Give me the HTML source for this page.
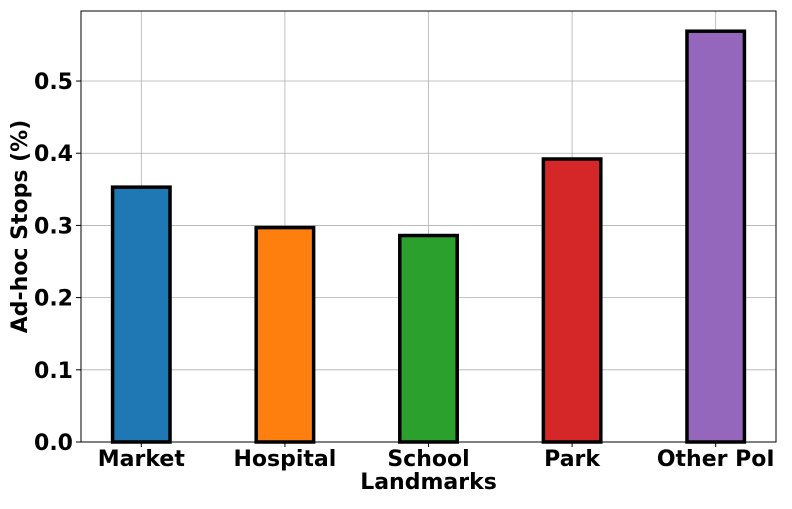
<!DOCTYPE html>
<html><head><meta charset="utf-8"><style>
body{margin:0;background:#fff;width:792px;height:504px;overflow:hidden}
svg text{font-family:"DejaVu Sans",sans-serif;font-weight:bold;fill:#000}
</style></head><body>
<svg id="chart" width="792" height="504"></svg>
<script>
const categories=["Market","Hospital","School","Park","Other PoI"];
const values=[0.353,0.297,0.286,0.392,0.569];
const colors=["#1f77b4","#ff7f0e","#2ca02c","#d62728","#9467bd"];
const yTicks=[0.0,0.1,0.2,0.3,0.4,0.5];
const yTickLabels=["0.0","0.1","0.2","0.3","0.4","0.5"];
const L=81,R=776,T=11,B=442;
const yMax=0.597,xMin=-0.42,xMax=categories.length-1+0.42;
const ys=v=>B-(v/yMax)*(B-T);
const xs=i=>L+(i-xMin)/(xMax-xMin)*(R-L);
const svg=document.getElementById('chart');
const NS="http://www.w3.org/2000/svg";
function mk(tag,attrs,parent){const e=document.createElementNS(NS,tag);for(const k in attrs)e.setAttribute(k,attrs[k]);(parent||svg).appendChild(e);return e;}
const grid=mk('g',{});


yTicks.forEach((t,i)=>{
  const y=ys(t);
  const gl=mk('line',{x1:L,x2:R,y1:y,y2:y,stroke:'#b0b0b0','stroke-width':0.8},grid);
  
  
  mk('line',{x1:L-5,x2:L,y1:y,y2:y,stroke:'#000','stroke-width':1});
  const tx=mk('text',{x:L-8,y:y+8,'text-anchor':'end','font-size':22});
  tx.textContent=yTickLabels[i];
  
  
});
categories.forEach((c,i)=>{
  const x=xs(i);
  const gl=mk('line',{x1:x,x2:x,y1:T,y2:B,stroke:'#b0b0b0','stroke-width':0.8},grid);
  
  
});
categories.forEach((c,i)=>{
  const x=xs(i),w=0.4*(xs(1)-xs(0));
  const r=mk('rect',{x:x-w/2,y:ys(values[i]),width:w,height:B-ys(values[i]),fill:colors[i],stroke:'#000','stroke-width':3.5});
  
  
  mk('line',{x1:x,x2:x,y1:B,y2:B+5,stroke:'#000','stroke-width':1});
  const tx=mk('text',{x:x,y:B+24,'text-anchor':'middle','font-size':22});
  tx.textContent=c;
  
  
});
const fr=mk('rect',{x:L,y:T,width:R-L,height:B-T,fill:'none',stroke:'#000','stroke-width':1});


const xt=mk('text',{x:(L+R)/2,y:489,'text-anchor':'middle','font-size':22});
xt.textContent='Landmarks';


const yt=mk('text',{x:0,y:0,'text-anchor':'middle','font-size':22,transform:`translate(27,${(T+B)/2}) rotate(-90)`});
yt.textContent='Ad-hoc Stops (%)';


</script>
</body></html>
